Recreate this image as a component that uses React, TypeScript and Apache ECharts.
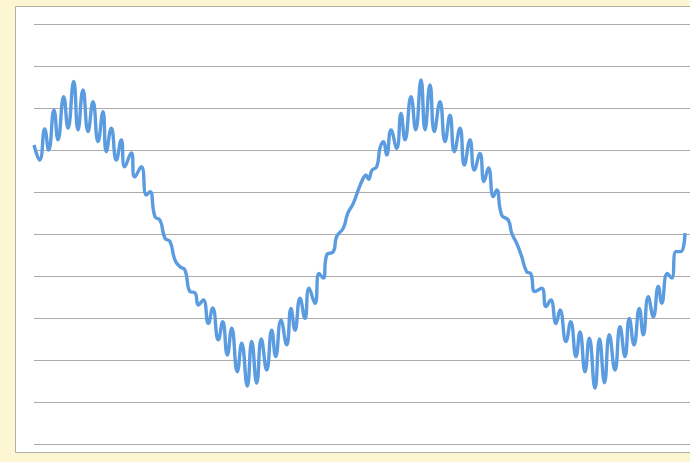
import React, { useEffect, useRef } from "react";
import * as echarts from "echarts";

// time position (0..656) of each turning point of the trace
const tValues: number[] = [
  0, 5.7, 10.7, 14.7, 20, 24, 29.7, 34, 39.7, 44, 49, 54, 59, 64, 69, 72.3, 77.3, 82.3, 87.3, 90.7,
  97.3, 100.7, 107.3, 112.3, 116, 121, 126, 131, 136, 141, 146, 151, 156, 161, 164.3, 169.3, 174.3,
  178.7, 184.3, 188.7, 193.3, 197.7, 203.3, 207.7, 213.3, 217.7, 222.7, 227.3, 232.7, 237.7, 241.7,
  247, 252.7, 257, 261, 266, 271, 275, 281, 285, 289.3, 292.7, 299.3, 302.7, 309.3, 313.7, 319.3,
  324.3, 329.3, 332, 334.5, 338, 342.7, 346, 349.3, 352.7, 357, 362.7, 367, 371, 377, 381.7, 387, 391,
  396, 400.3, 406, 411, 416, 420.3, 426, 430.3, 436, 440.3, 446, 450, 454.5, 459.3, 462.7, 467.7,
  474.3, 477.7, 482.7, 487.7, 492.7, 496.7, 501, 507.7, 512, 516.7, 522, 526, 532, 536.7, 542, 546,
  551, 555.3, 561, 565.5, 570.5, 575.3, 581, 586, 591, 595.3, 600, 605.3, 609.3, 614.3, 619.3,
  624.3, 627.7, 633.3, 637.7, 642, 646.7, 651,
];

// signal level (grid units 0..10) at each of those positions
const signalValues: number[] = [
  7.12, 6.76, 7.5, 7.0, 7.95, 7.24, 8.27, 7.52, 8.63, 7.48, 8.43, 7.44, 8.15, 7.2, 7.91, 6.96, 7.52,
  6.76, 7.24, 6.6, 6.93, 6.36, 6.6, 5.93, 6.01, 5.41, 5.33, 4.9, 4.82, 4.38, 4.22, 4.14, 3.63, 3.6,
  3.31, 3.43, 2.87, 3.24, 2.48, 2.91, 2.12, 2.76, 1.72, 2.4, 1.38, 2.44, 1.45, 2.5, 1.76, 2.71, 2.08,
  2.95, 2.36, 3.23, 2.71, 3.47, 2.99, 3.71, 3.35, 4.06, 3.95, 4.5, 4.58, 4.94, 5.14, 5.49, 5.73,
  6.05, 6.33, 6.4, 6.3, 6.52, 6.6, 7.05, 7.2, 6.88, 7.48, 7.04, 7.87, 7.24, 8.27, 7.48, 8.67, 7.48,
  8.55, 7.44, 8.15, 7.2, 7.83, 6.96, 7.52, 6.64, 7.24, 6.52, 6.92, 6.25, 6.57, 5.89, 6.05, 5.45,
  5.33, 5.02, 4.78, 4.46, 4.1, 4.06, 3.63, 3.71, 3.27, 3.43, 2.87, 3.19, 2.44, 2.91, 2.08, 2.67,
  1.72, 2.52, 1.33, 2.5, 1.46, 2.6, 1.76, 2.79, 2.08, 2.99, 2.36, 3.23, 2.6, 3.51, 3.03, 3.75, 3.35,
  4.06, 3.95, 4.58, 4.58, 5.02,
];

const yMin = 0;
const yMax = 10;
const yInterval = 1;
const tMin = 0;
const tMax = 656;

export default function App() {
  const ref = useRef<HTMLDivElement>(null);

  useEffect(() => {
    if (!ref.current) return;
    const chart = echarts.init(ref.current, null, { renderer: "svg" });
    const data = tValues.map((t, i) => [t, signalValues[i]]);
    chart.setOption({
      animation: false,
      backgroundColor: "#fcf6d2",
      graphic: [
        {
          type: "rect",
          z: -10,
          shape: { x: 15.5, y: 6.5, width: 690, height: 446 },
          style: { fill: "#ffffff", stroke: "#b0b0aa", lineWidth: 1 },
          silent: true,
        },
      ],
      grid: { left: 34, right: 0, top: 24, bottom: 18, containLabel: false },
      xAxis: {
        type: "value",
        min: tMin,
        max: tMax,
        show: false,
        splitLine: { show: false },
      },
      yAxis: {
        type: "value",
        min: yMin,
        max: yMax,
        interval: yInterval,
        axisLine: { show: false },
        axisTick: { show: false },
        axisLabel: { show: false },
        splitLine: { show: true, lineStyle: { color: "#ababab", width: 1, type: "solid" } },
      },
      series: [
        {
          type: "line",
          data,
          smooth: 0.5,
          symbol: "none",
          lineStyle: { color: "#5b9be0", width: 3.4 },
          z: 5,
        },
      ],
    });
    return () => chart.dispose();
  }, []);

  return (
    <div
      ref={ref}
      style={{ position: "fixed", left: 0, top: 0, width: 690, height: 462 }}
    />
  );
}
